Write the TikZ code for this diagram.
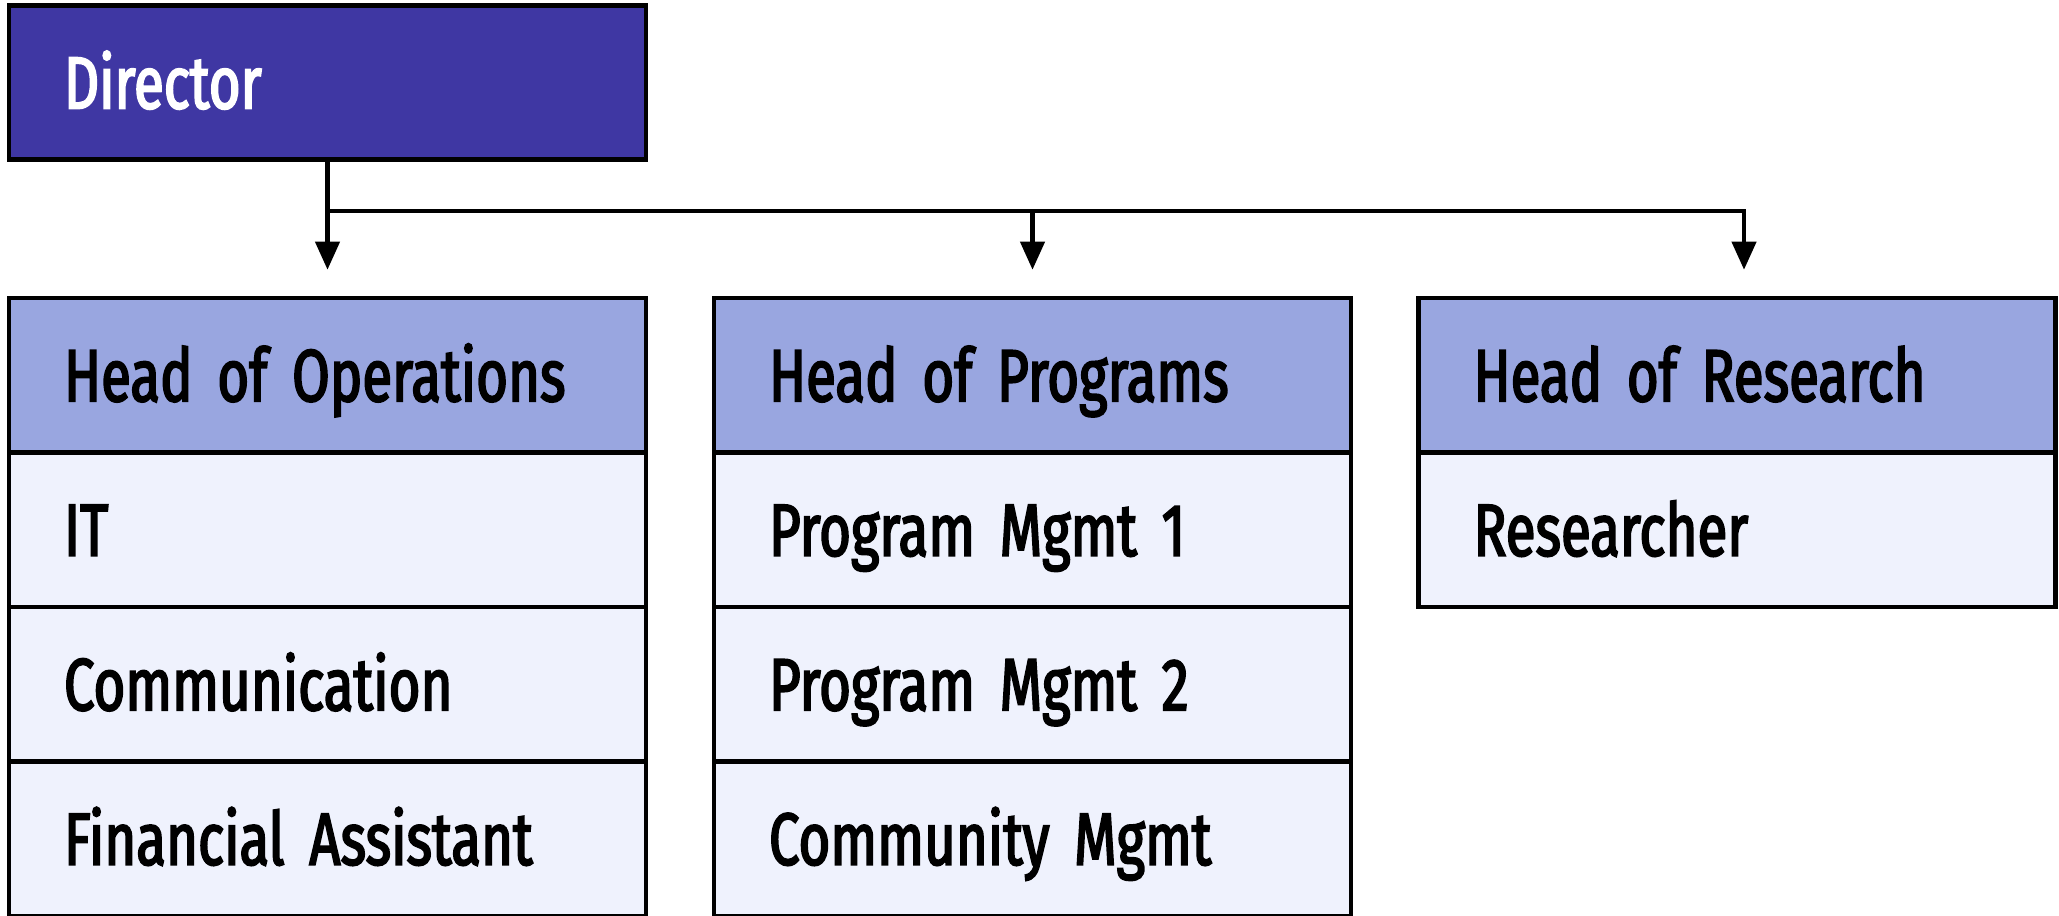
\documentclass[tikz,border=0pt]{standalone}
\usepackage{fontspec}
\setmainfont[FakeStretch=0.74, FakeBold=2.5]{Fira Sans}
\usetikzlibrary{arrows.meta, positioning}
\definecolor{chiefblue}{HTML}{3F37A3}
\definecolor{headblue}{HTML}{99A6E0}
\definecolor{rowblue}{HTML}{EFF2FD}
\newcommand{\cellfont}{\fontsize{21}{24}\selectfont\fontdimen2\font 0.09cm\relax}
\tikzstyle{cell} = [
    rectangle, 
    minimum width=6.37cm, 
    minimum height=1.545cm,
    text width=5.27cm,
    inner xsep=0.55cm,
    text height=0.52cm,
    text depth=0pt,
    align=left,
    draw=black, 
    line width=1.3pt,
    font=\cellfont
]
\tikzstyle{chief} = [cell, fill=chiefblue, text=white]
\tikzstyle{head} = [cell, fill=headblue]
\tikzstyle{member} = [cell, fill=rowblue]
\tikzstyle{arrow} = [line width=1.2pt,-{Triangle[width=0.24cm,length=0.28cm]},shorten >=0.26cm]

\begin{document}
\begin{tikzpicture}[node distance=1.545cm]
\useasboundingbox (0,0) rectangle (20.59,-9.16);

% Nodes
\node (director) [chief] at (3.275,-0.825) {Director};
\node (ops) [head] at (3.275,-3.7525) {Head of Operations};
\node (it) [member, below of=ops] {IT};
\node (comm) [member, below of=it] {Communication};
\node (finance) [member, below of=comm] {Financial Assistant};
\node (progs) [head] at (10.325,-3.7525) {Head of Programs};
\node (prog1) [member, below of=progs] {Program Mgmt 1};
\node (prog2) [member, below of=prog1] {Program Mgmt 2};
\node (community) [member, below of=prog2] {Community Mgmt};
\node (research) [head] at (17.37,-3.7525) {Head of Research};
\node (researcher) [member, below of=research] {Researcher};
\coordinate (split) at (3.275,-2.11);

% Arrows
\draw [arrow] (director) -- (ops);
\draw [arrow] (split) -| (progs);
\draw [arrow] (split) -| ([xshift=0.07cm]research.north);

\end{tikzpicture}
\end{document}
